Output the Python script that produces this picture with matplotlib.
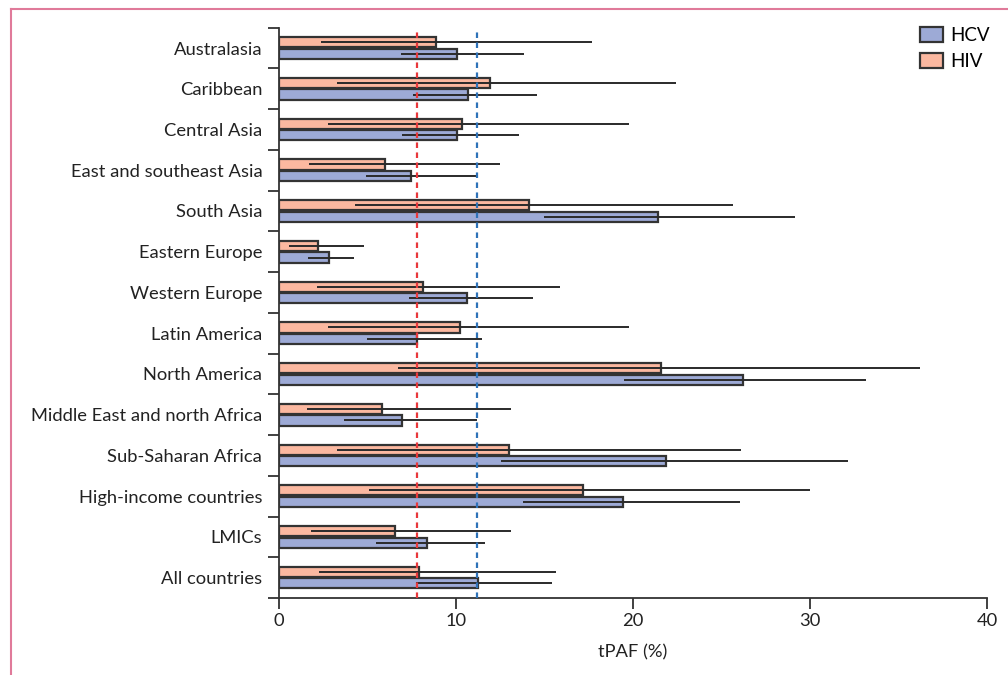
import numpy as np
import matplotlib.pyplot as plt
from matplotlib.lines import Line2D
from matplotlib.patches import Patch

plt.rcParams['font.family'] = ['Lato', 'DejaVu Sans']

regions = ['Australasia', 'Caribbean', 'Central Asia', 'East and southeast Asia',
           'South Asia', 'Eastern Europe', 'Western Europe', 'Latin America',
           'North America', 'Middle East and north Africa', 'Sub-Saharan Africa',
           'High-income countries', 'LMICs', 'All countries']

# tPAF (%) and uncertainty intervals
hiv = [8.85, 11.92, 10.34, 5.99, 14.1, 2.18, 8.16, 10.25, 21.56, 5.84, 13.01, 17.16, 6.57, 7.93]
hiv_lo = [2.37, 3.3, 2.79, 1.68, 4.29, 0.56, 2.16, 2.75, 6.7, 1.56, 3.3, 5.1, 1.79, 2.26]
hiv_hi = [17.67, 22.4, 19.8, 12.49, 25.65, 4.82, 15.88, 19.8, 36.2, 13.09, 26.1, 30.0, 13.13, 15.65]

hcv = [10.08, 10.68, 10.06, 7.46, 21.43, 2.81, 10.64, 7.82, 26.2, 6.95, 21.86, 19.41, 8.34, 11.22]
hcv_lo = [6.87, 7.55, 6.97, 4.92, 14.99, 1.66, 7.34, 4.97, 19.5, 3.67, 12.56, 13.79, 5.5, 7.72]
hcv_hi = [13.84, 14.56, 13.58, 11.17, 29.15, 4.22, 14.37, 11.45, 33.16, 11.17, 32.15, 26.05, 11.64, 15.44]

ref_hiv = 7.8
ref_hcv = 11.2

hiv_col = '#FBB8A0'
hcv_col = '#9DAAD6'
edge = '#333333'
txt = '#222222'

fig = plt.figure(figsize=(10.08, 6.75), dpi=100)
ax = fig.add_axes([0.2768, 0.1141, 0.7024, 0.8449])

y = np.arange(len(regions))
h = 0.25
off = 0.142

ax.barh(y - off, hiv, height=h, color=hiv_col, edgecolor=edge, linewidth=1.6, zorder=2)
ax.barh(y + off, hcv, height=h, color=hcv_col, edgecolor=edge, linewidth=1.6, zorder=2)
ax.hlines(y - off, hiv_lo, hiv_hi, color='#2a2a2a', linewidth=1.4, zorder=3)
ax.hlines(y + off, hcv_lo, hcv_hi, color='#2a2a2a', linewidth=1.4, zorder=3)

ax.axvline(ref_hiv, color='#E8383B', linestyle=(0, (2.5, 2)), linewidth=1.6, zorder=4)
ax.axvline(ref_hcv, color='#2E72B8', linestyle=(0, (2.5, 2)), linewidth=1.6, zorder=4)

ax.set_xlim(0, 40)
ax.set_ylim(len(regions) - 0.5, -0.5)
ax.set_xticks([0, 10, 20, 30, 40])
ax.set_yticks(np.arange(-0.5, len(regions)))
ax.set_yticklabels([])
ax.set_yticks(y, minor=True)
ax.set_yticklabels(regions, minor=True)

for s in ['top', 'right']:
    ax.spines[s].set_visible(False)
for s in ['left', 'bottom']:
    ax.spines[s].set_color(edge)
    ax.spines[s].set_linewidth(1.3)

ax.tick_params(axis='y', which='major', length=8, width=1.3, color=edge)
ax.tick_params(axis='y', which='minor', length=0, pad=12, labelsize=13.2, labelcolor=txt)
ax.tick_params(axis='x', length=8, width=1.3, color=edge, labelsize=13.2, labelcolor=txt, pad=3)
ax.set_xlabel('tPAF (%)', fontsize=13.2, color=txt, labelpad=11)

handles = [Patch(facecolor=hcv_col, edgecolor=edge, linewidth=1.6, label='HCV'),
           Patch(facecolor=hiv_col, edgecolor=edge, linewidth=1.6, label='HIV')]
ax.legend(handles=handles, loc='upper left', bbox_to_anchor=(920 / 1008, 1 - 27 / 675),
          bbox_transform=fig.transFigure, frameon=False, borderpad=0, borderaxespad=0,
          fontsize=13.5, handlelength=1.25, handleheight=0.8, handletextpad=0.35, labelspacing=0.48)

# pink frame
fig.add_artist(Line2D([11 / 1008, 11 / 1008], [0, 1 - 9 / 675], color='#E07A9A', linewidth=1.5))
fig.add_artist(Line2D([11 / 1008, 1], [1 - 9 / 675, 1 - 9 / 675], color='#E07A9A', linewidth=1.5))

fig.savefig('out.png', dpi=100)
